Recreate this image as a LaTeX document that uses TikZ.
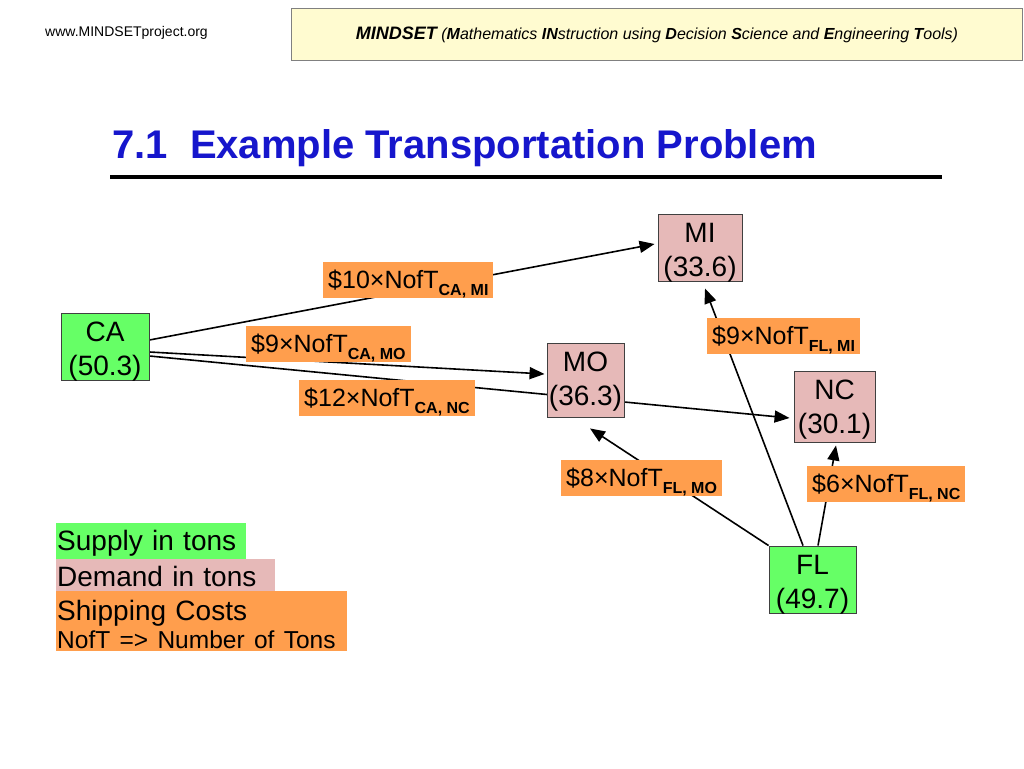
\documentclass[tikz,border=0pt]{standalone}
\usepackage{fontspec}
\setmainfont{Liberation Sans}
\usetikzlibrary{arrows.meta,backgrounds}
\definecolor{supg}{RGB}{102,255,102}
\definecolor{dempk}{RGB}{230,185,184}
\definecolor{costor}{RGB}{255,158,77}
\definecolor{hdrfill}{RGB}{255,251,208}
\definecolor{ttlblue}{RGB}{22,22,204}
\newcommand{\cost}[3]{\$#1×NofT\raisebox{-7pt}{\fontsize{16}{16}\selectfont\bfseries #2, #3}}
\newcommand{\bxtext}[4]{\parbox[c][#2][t]{#1}{\centering\rule{0pt}{28pt}#3\\#4}}
\begin{document}
\begin{tikzpicture}[x=1pt,y=-1pt,
  box/.style={draw=black!75, line width=0.9pt, inner sep=0pt,
    font=\fontsize{28}{34}\selectfont},
  lab/.style={fill=costor, inner xsep=5pt, inner ysep=0pt, text height=26pt,
    text depth=9.5pt, anchor=base west, font=\fontsize{25}{25}\selectfont},
  arr/.style={line width=1.6pt, -{Triangle[length=15pt,width=12pt]}},
  leg/.style={anchor=base west, inner xsep=1pt, inner ysep=0pt, align=left,
    font=\fontsize{28}{28}\selectfont}]
\useasboundingbox (0,0) rectangle (1024,768);

% header
\node[anchor=base west, inner sep=0pt, font=\fontsize{14}{14}\selectfont] (url) at (45,37) {www.MINDSETproject.org};
\node[draw=black!50, fill=hdrfill, line width=1pt, minimum width=731pt, minimum height=52pt,
  anchor=north west, inner sep=0pt, font=\fontsize{16}{18}\selectfont\itshape] (hdr) at (291,8)
  {{\fontsize{18}{18}\selectfont\bfseries MINDSET} (\textbf{M}athematics \textbf{IN}struction using \textbf{D}ecision \textbf{S}cience and \textbf{E}ngineering \textbf{T}ools)};

% title
\node[anchor=base west, inner sep=0pt, font=\fontsize{40}{40}\selectfont\bfseries, text=ttlblue] (ttl) at (112,158) {7.1\ \ Example Transportation Problem};
\draw[line width=4.5pt] (110,177) -- (942,177);

% nodes
\node[box, fill=supg] (CA) at (105,346.5) {\bxtext{88pt}{67pt}{CA}{(50.3)}};
\node[box, fill=dempk] (MI) at (700,247.5) {\bxtext{84pt}{67pt}{MI}{(33.6)}};
\node[box, fill=dempk] (MO) at (585.5,380) {\bxtext{77pt}{74pt}{MO}{(36.3)}};
\node[box, fill=dempk] (NC) at (834.5,406.5) {\bxtext{81pt}{71pt}{NC}{(30.1)}};
\node[box, fill=supg] (FL) at (812.5,579.5) {\bxtext{87pt}{67pt}{FL}{(49.7)}};

% connectors
\begin{scope}[on background layer]
\draw[arr] ([yshift=6.5pt]CA.east) -- ([xshift=-3pt,yshift=3.5pt]MI.west);
\draw[arr] ([yshift=-5.5pt]CA.east) -- ([xshift=-2pt,yshift=6pt]MO.west);
\draw[arr] ([yshift=-9.5pt]CA.east) -- ([xshift=-4pt,yshift=-11.5pt]NC.west);
\draw[arr] (FL.north west) -- ([xshift=4.5pt,yshift=-11pt]MO.south);
\draw[arr] ([xshift=-9.5pt]FL.north) -- ([xshift=5pt,yshift=-7pt]MI.south);
\draw[arr] ([xshift=5.5pt]FL.north) -- ([xshift=1.5pt,yshift=-3pt]NC.south);
\end{scope}

% cost labels
\node[lab] (L1) at (323,288) {\cost{10}{CA}{MI}};
\node[lab] (L2) at (246,352) {\cost{9}{CA}{MO}};
\node[lab] (L3) at (299,406) {\cost{12}{CA}{NC}};
\node[lab] (L4) at (707,344) {\cost{9}{FL}{MI}};
\node[lab] (L5) at (561,486) {\cost{8}{FL}{MO}};
\node[lab] (L6) at (807,492) {\cost{6}{FL}{NC}};

% legend
\node[leg, fill=supg, text height=27pt, text depth=9pt, text width=188pt] (sup) at (56,550) {Supply in tons};
\node[leg, fill=dempk, text height=27pt, text depth=4.5pt, text width=217pt] (dem) at (56,586) {Demand in tons};
\node[leg, fill=costor, anchor=north west, text width=289pt] (shp) at (56,590.5)
  {\rule{0pt}{29.5pt}Shipping Costs\\{\fontsize{24.5}{28}\selectfont NofT => Number of Tons\rule[-2.5pt]{0pt}{2.5pt}}};
\end{tikzpicture}
\end{document}
